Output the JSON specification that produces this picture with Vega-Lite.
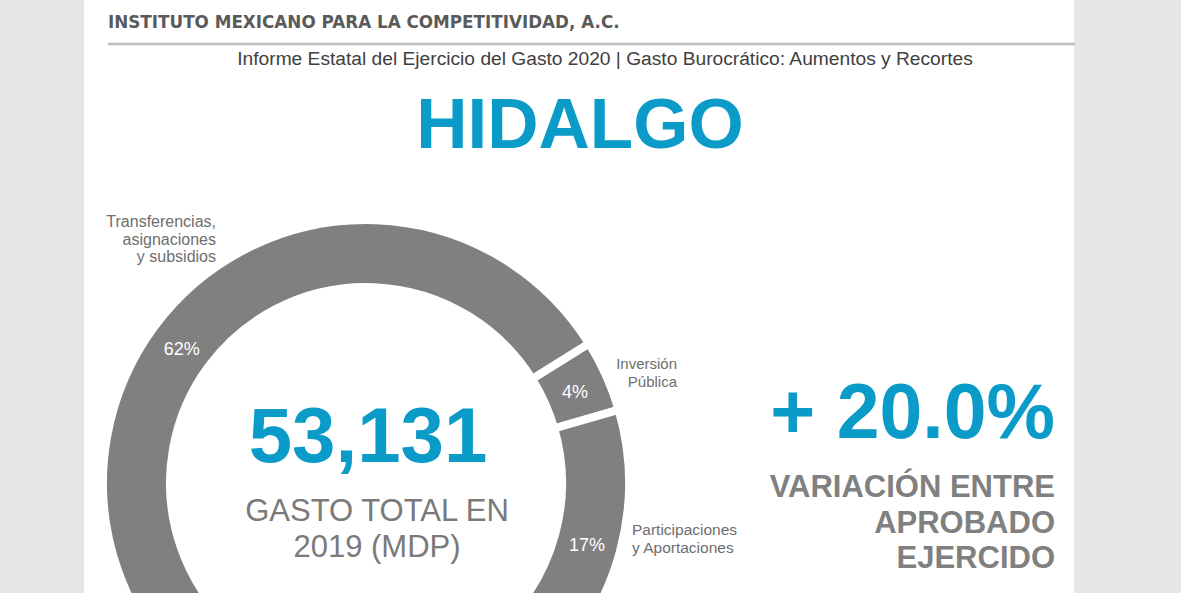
{
  "$schema": "https://vega.github.io/schema/vega-lite/v6.json",
  "width": 990,
  "height": 593,
  "autosize": {"type": "none"},
  "padding": {"left": 84, "top": 0, "right": 107, "bottom": 0},
  "background": "#e6e6e6",
  "view": {"fill": "white", "stroke": null},
  "config": {"view": {"fill": "white", "stroke": null}, "font": "Liberation Sans"},
  "datasets": {
    "gasto": [
      {"orden": 1, "capitulo": "Transferencias,\nasignaciones\ny subsidios", "valor": 0.62},
      {"orden": 2, "capitulo": "Inversión\nPública", "valor": 0.044},
      {"orden": 3, "capitulo": "Participaciones\ny Aportaciones", "valor": 0.174},
      {"orden": 4, "capitulo": "Otros capítulos", "valor": 0.162}
    ]
  },
  "layer": [
    {
      "data": {"values": [{"texto": "INSTITUTO MEXICANO PARA LA COMPETITIVIDAD, A.C."}]},
      "mark": {"type": "text", "x": 24, "y": 23, "align": "left", "baseline": "middle", "font": "DejaVu Sans", "fontWeight": "bold", "fontSize": 16.8, "fill": "#5a5a5a"},
      "encoding": {"text": {"field": "texto"}}
    },
    {
      "data": {"values": [{"linea": "encabezado"}]},
      "mark": {"type": "rule", "stroke": "#bdbdbd", "strokeWidth": 2.5},
      "encoding": {"x": {"value": 24}, "x2": {"value": 991}, "y": {"value": 44}}
    },
    {
      "data": {"values": [{"texto": "Informe Estatal del Ejercicio del Gasto 2020 | Gasto Burocrático: Aumentos y Recortes"}]},
      "mark": {"type": "text", "x": 521, "y": 59, "align": "center", "baseline": "middle", "fontSize": 19.2, "fill": "#404040"},
      "encoding": {"text": {"field": "texto"}}
    },
    {
      "data": {"values": [{"texto": "HIDALGO"}]},
      "mark": {"type": "text", "x": 496, "y": 148, "align": "center", "baseline": "alphabetic", "fontSize": 71, "fontWeight": "bold", "fill": "#0a9bc9"},
      "encoding": {"text": {"field": "texto"}}
    },
    {
      "data": {"name": "gasto"},
      "encoding": {
        "theta": {"field": "valor", "type": "quantitative", "stack": true, "scale": {"range": [-2.8833, 3.3999]}},
        "order": {"field": "orden", "type": "quantitative"}
      },
      "layer": [
        {
          "mark": {"type": "arc", "x": 282, "y": 483, "outerRadius": 263, "innerRadius": 196, "fill": "#808080", "stroke": "white", "strokeWidth": 8}
        },
        {
          "mark": {"type": "text", "x": 282, "y": 483, "radius": 229, "dy": 3, "fontSize": 18, "fill": "white", "align": "center", "baseline": "middle"},
          "encoding": {
            "text": {"condition": {"test": "datum.orden == 4", "value": ""}, "field": "valor", "type": "quantitative", "format": ".0%"}
          }
        }
      ]
    },
    {
      "data": {"name": "gasto"},
      "transform": [{"filter": "datum.orden == 1"}],
      "mark": {"type": "text", "x": 132, "y": 227, "align": "right", "baseline": "alphabetic", "fontSize": 16, "lineHeight": 17.5, "lineBreak": "\n", "fill": "#6e6e6e"},
      "encoding": {"text": {"field": "capitulo"}}
    },
    {
      "data": {"name": "gasto"},
      "transform": [{"filter": "datum.orden == 2"}],
      "mark": {"type": "text", "x": 593, "y": 369, "align": "right", "baseline": "alphabetic", "fontSize": 15, "lineHeight": 18, "lineBreak": "\n", "fill": "#6e6e6e"},
      "encoding": {"text": {"field": "capitulo"}}
    },
    {
      "data": {"name": "gasto"},
      "transform": [{"filter": "datum.orden == 3"}],
      "mark": {"type": "text", "x": 548, "y": 535, "align": "left", "baseline": "alphabetic", "fontSize": 15.5, "lineHeight": 18, "lineBreak": "\n", "fill": "#6e6e6e"},
      "encoding": {"text": {"field": "capitulo"}}
    },
    {
      "data": {"values": [{"total": 53131}]},
      "mark": {"type": "text", "x": 284, "y": 462, "align": "center", "baseline": "alphabetic", "fontSize": 78, "fontWeight": "bold", "fill": "#0a9bc9"},
      "encoding": {"text": {"field": "total", "type": "quantitative", "format": ",d"}}
    },
    {
      "data": {"values": [{"texto": "GASTO TOTAL EN\n2019 (MDP)"}]},
      "mark": {"type": "text", "x": 293, "y": 521, "align": "center", "baseline": "alphabetic", "fontSize": 31, "lineHeight": 36, "lineBreak": "\n", "fill": "#7a7a7a"},
      "encoding": {"text": {"field": "texto"}}
    },
    {
      "data": {"values": [{"texto": "+ 20.0%"}]},
      "mark": {"type": "text", "x": 971, "y": 438, "align": "right", "baseline": "alphabetic", "fontSize": 77, "fontWeight": "bold", "fill": "#0a9bc9"},
      "encoding": {"text": {"field": "texto"}}
    },
    {
      "data": {"values": [{"texto": "VARIACIÓN ENTRE\nAPROBADO\nEJERCIDO"}]},
      "mark": {"type": "text", "x": 971, "y": 497, "align": "right", "baseline": "alphabetic", "fontSize": 31, "fontWeight": "bold", "lineHeight": 35.5, "lineBreak": "\n", "fill": "#808080"},
      "encoding": {"text": {"field": "texto"}}
    }
  ]
}
